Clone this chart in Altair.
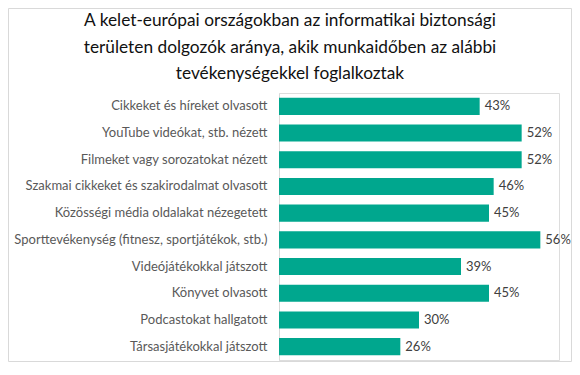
import altair as alt
import pandas as pd

title_lines = [
    "A kelet-európai országokban az informatikai biztonsági",
    "területen dolgozók aránya, akik munkaidőben az alábbi",
    "tevékenységekkel foglalkoztak",
]
categories = [
    "Cikkeket és híreket olvasott",
    "YouTube videókat, stb. nézett",
    "Filmeket vagy sorozatokat nézett",
    "Szakmai cikkeket és szakirodalmat olvasott",
    "Közösségi média oldalakat nézegetett",
    "Sporttevékenység (fitnesz, sportjátékok, stb.)",
    "Videójátékokkal játszott",
    "Könyvet olvasott",
    "Podcastokat hallgatott",
    "Társasjátékokkal játszott",
]
values = [43, 52, 52, 46, 45, 56, 39, 45, 30, 26]

FONT = "Lato"
BAR = "#00A78E"
W, H = 280, 267
PL, PT, PR, PB = 271, 85, 13, 2

df = pd.DataFrame({"cat": categories, "v": values})
df["label"] = [f"{v}%" for v in values]

one = pd.DataFrame({"a": [0]})
border = alt.Chart(one).mark_rect(filled=False, stroke="#d9d9d9", strokeWidth=1).encode(
    x=alt.value(-PL + 0.5), x2=alt.value(W + PR - 0.5),
    y=alt.value(-PT + 0.5), y2=alt.value(H + PB - 0.5),
)

title_y = [-72, -45, -19]
title_layers = [
    alt.Chart(pd.DataFrame({"t": [line]})).mark_text(
        font=FONT, fontSize=17.3, color="#111111", align="center", baseline="middle"
    ).encode(text="t:N", x=alt.value(11), y=alt.value(yy))
    for line, yy in zip(title_lines, title_y)
]

base = alt.Chart(df)
yenc = alt.Y(
    "cat:N", sort=categories, title=None,
    scale=alt.Scale(paddingInner=0.36, paddingOuter=0.18),
    axis=alt.Axis(ticks=False, domainColor="#d9d9d9", labelPadding=12,
                  labelFontSize=13, labelColor="#595959", labelFont=FONT,
                  labelLimit=0, grid=False),
)
xenc = alt.X("v:Q", scale=alt.Scale(domain=[0, 60], nice=False), axis=None)

bars = base.mark_bar(color=BAR).encode(y=yenc, x=xenc)
texts = base.mark_text(align="left", baseline="middle", dx=5, font=FONT,
                       fontSize=13, color="#404040").encode(y=yenc, x=xenc, text="label:N")

chart = alt.layer(border, *title_layers, bars, texts).properties(
    width=W, height=H, autosize="none",
    padding={"left": PL, "top": PT, "right": PR, "bottom": PB},
).configure_view(stroke=None).configure(background="white")

chart.save("out.html", embed_options={"renderer": "svg", "actions": False})
